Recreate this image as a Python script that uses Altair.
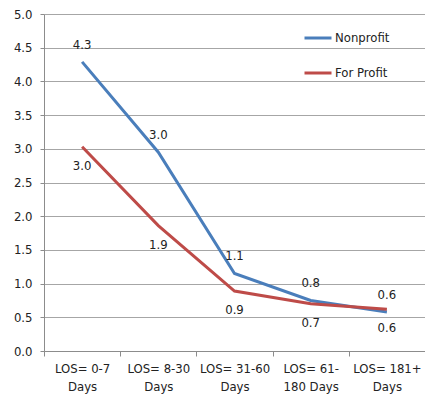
import altair as alt
import pandas as pd

# Length-of-stay categories (| marks the line break in the axis label)
categories = ["LOS= 0-7|Days", "LOS= 8-30|Days", "LOS= 31-60|Days",
              "LOS= 61-|180 Days", "LOS= 181+|Days"]
series_names = ["Nonprofit", "For Profit"]
nonprofit = [4.29, 2.95, 1.15, 0.75, 0.58]
for_profit = [3.03, 1.86, 0.89, 0.70, 0.62]

rows = []
for name, vals in zip(series_names, [nonprofit, for_profit]):
    for c, v in zip(categories, vals):
        rows.append({"cat": c, "series": name, "value": v})
df = pd.DataFrame(rows)

FONT = "Liberation Sans Narrow, Arial Narrow, DejaVu Sans Condensed, sans-serif"
BLUE = "#4a7ebb"
RED = "#be4b48"

x_enc = alt.X(
    "cat:N", sort=categories, bandPosition=0.5, title=None,
    scale=alt.Scale(type="band", paddingInner=0, paddingOuter=0),
    axis=alt.Axis(labelExpr="split(datum.label, '|')", labelAngle=0,
                  tickBand="extent", tickSize=5, labelPadding=6,
                  labelLineHeight=18, labelFontSize=13, labelColor="#222",
                  domainColor="#8c8c8c", tickColor="#8c8c8c", grid=False),
)
y_enc = alt.Y(
    "value:Q", title=None,
    scale=alt.Scale(domain=[0, 5], nice=False),
    axis=alt.Axis(values=[0, 0.5, 1, 1.5, 2, 2.5, 3, 3.5, 4, 4.5, 5],
                  format=".1f", tickSize=4, labelPadding=8, labelFontSize=13,
                  labelColor="#222", domainColor="#8c8c8c", tickColor="#8c8c8c",
                  gridColor="#a6a6a6", gridWidth=1),
)

base = alt.Chart(df)

lines = base.mark_line(strokeWidth=3).encode(
    x=x_enc, y=y_enc,
    color=alt.Color(
        "series:N",
        scale=alt.Scale(domain=series_names, range=[BLUE, RED]),
        legend=alt.Legend(title=None, orient="none", legendX=259, legendY=9,
                          symbolType="stroke", symbolSize=729,
                          symbolStrokeWidth=3, labelFontSize=13,
                          labelColor="#222", labelOffset=2, rowPadding=13),
    ),
    detail="series:N",
)

labels_np = base.transform_filter(alt.datum.series == "Nonprofit").mark_text(
    dy=-17, fontSize=13, color="#222"
).encode(x=x_enc, y=y_enc, text=alt.Text("value:Q", format=".1f"))

labels_fp = base.transform_filter(alt.datum.series == "For Profit").mark_text(
    dy=19, fontSize=13, color="#222"
).encode(x=x_enc, y=y_enc, text=alt.Text("value:Q", format=".1f"))

chart = alt.layer(lines, labels_np, labels_fp).properties(
    width=381, height=337,
    autosize=alt.AutoSizeParams(type="none"),
    padding={"left": 44, "top": 14, "right": 0, "bottom": 52},
).configure(font=FONT).configure_view(stroke=None)

chart.save("out.html", embed_options={"renderer": "svg", "actions": False})
